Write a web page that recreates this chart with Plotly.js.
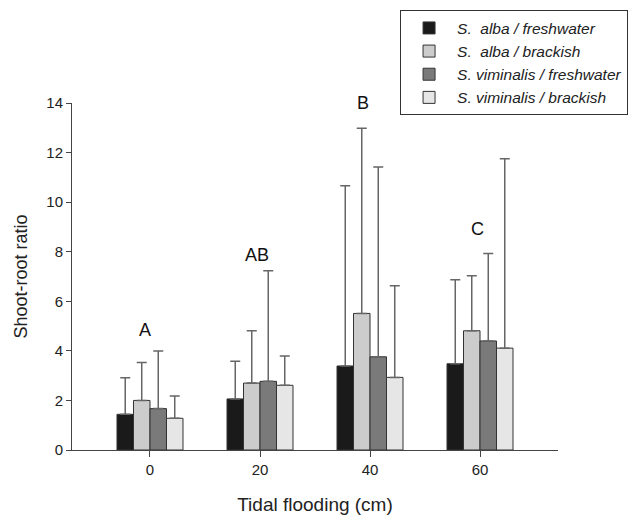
<!DOCTYPE html>
<html>
<head>
<meta charset="utf-8">
<script src="https://cdn.plot.ly/plotly-3.0.1.min.js"></script>
<style>html,body{margin:0;padding:0;background:#fff;}#chart{width:636px;height:516px;}</style>
</head>
<body>
<div id="chart"></div>
<script>
// Data
const categories = ['0', '20', '40', '60'];
const seriesNames = ['S.\u00a0 alba / freshwater', 'S.\u00a0 alba / brackish', 'S. viminalis / freshwater', 'S. viminalis / brackish'];
const albaFresh = [1.44, 2.06, 3.39, 3.48];
const albaFreshErr = [1.48, 1.52, 7.27, 3.39];
const albaBrack = [2.00, 2.70, 5.51, 4.81];
const albaBrackErr = [1.53, 2.11, 7.47, 2.22];
const vimFresh = [1.67, 2.77, 3.76, 4.40];
const vimFreshErr = [2.32, 4.46, 7.66, 3.53];
const vimBrack = [1.28, 2.61, 2.93, 4.11];
const vimBrackErr = [0.90, 1.18, 3.70, 7.64];
const letters = ['A', 'AB', 'B', 'C'];
const letterY = [4.84, 7.86, 14.0, 8.9];

const colors = ['#1a1a1a', '#cccccc', '#7a7a7a', '#e6e6e6'];
const vals = [albaFresh, albaBrack, vimFresh, vimBrack];
const errs = [albaFreshErr, albaBrackErr, vimFreshErr, vimBrackErr];

const traces = vals.map((v, i) => ({
  type: 'bar',
  name: seriesNames[i],
  x: categories,
  y: v,
  marker: {color: colors[i], line: {color: '#333333', width: 1}},
  error_y: {type: 'data', array: errs[i], arrayminus: errs[i].map(() => 0), symmetric: false,
            color: '#666666', thickness: 1.5, width: 5}
}));

const letterShift = [-5, -3, -7, -3];
const annotations = letters.map((t, i) => ({
  x: categories.indexOf(categories[i]), y: letterY[i], xref: 'x', yref: 'y', text: t, showarrow: false,
  xshift: letterShift[i], font: {family: 'Arial, Liberation Sans, sans-serif', size: 18, color: '#111'}
}));

const layout = {
  width: 636, height: 516,
  margin: {l: 72, r: 78, t: 103, b: 66, autoexpand: false},
  paper_bgcolor: '#ffffff', plot_bgcolor: '#ffffff',
  font: {family: 'Arial, Liberation Sans, sans-serif', size: 15, color: '#222'},
  barmode: 'group', bargap: 0.4, bargroupgap: 0,
  showlegend: true,
  legend: {x: 0.675, y: 1.267, xanchor: 'left', yanchor: 'top',
           bordercolor: '#333', borderwidth: 1, bgcolor: '#fff',
           font: {size: 15.5, style: 'italic', color: '#222'}, tracegroupgap: 0, itemwidth: 46},
  xaxis: {type: 'category', range: [-0.709, 3.709], showline: true, linecolor: '#444', linewidth: 1,
          ticks: 'outside', ticklen: 6, tickcolor: '#444', showgrid: false, zeroline: false,
          tickfont: {size: 15}, title: {text: 'Tidal flooding (cm)', font: {size: 19}, standoff: 20}},
  yaxis: {range: [0, 14], dtick: 2, showline: true, linecolor: '#444', linewidth: 1,
          ticks: 'outside', ticklen: 5, tickcolor: '#444', showgrid: false, zeroline: false,
          tickfont: {size: 15}, title: {text: 'Shoot-root ratio', font: {size: 18}, standoff: 14}},
  annotations: annotations
};

Plotly.newPlot('chart', traces, layout, {displayModeBar: false, staticPlot: true});
</script>
</body>
</html>
